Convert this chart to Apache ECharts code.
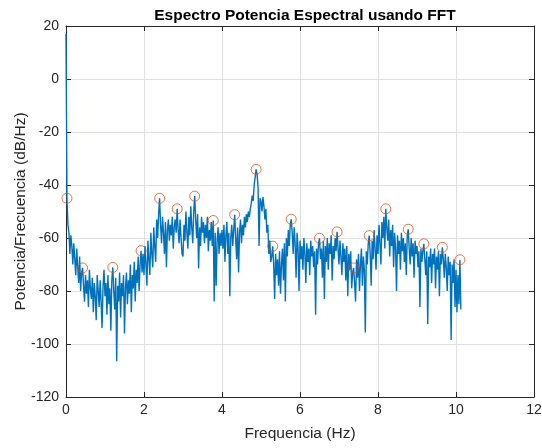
<!DOCTYPE html>
<html>
<head>
<meta charset="utf-8">
<script src="https://cdn.jsdelivr.net/npm/echarts@6/dist/echarts.min.js"></script>
<style>html,body{margin:0;padding:0;background:#fff}#c{width:542px;height:448px}</style>
</head>
<body>
<div id="c"></div>
<script>
// Spectrum sampling step (Hz) of the FFT bins
const freqStep = 0.025;
// Power spectral density values (dB/Hz), one per bin starting at 0 Hz
const psdValues = [
  17, -45, -55, -58, -66, -59, -63, -70, -62, -68, -74, -64, -71, -77, -67, -80, -73, -71.3, -78, -84,
  -74, -81, -76, -86, -72, -79, -83, -75, -88, -77, -82, -91, -74, -80, -86, -76, -84, -94, -78, -72,
  -82, -77, -89, -74, -85, -79, -95, -76, -71.1, -80, -87, -75, -106.5, -78, -84, -73, -90, -77, -82, -74,
  -96, -79, -73, -85, -76, -81, -70, -88, -74, -79, -69, -84, -72, -77, -67, -80, -70, -64.8, -73, -66,
  -74, -63, -70, -78, -61, -68, -74, -58, -66, -71, -56, -63, -69, -53, -60, -51, -45, -55, -62, -52,
  -58, -66, -54, -71, -57, -53, -61, -55, -59, -52, -64, -56, -53, -58, -49, -57, -62, -53, -60, -66,
  -67, -55, -61, -50, -58, -64, -52, -59, -48, -56, -62, -50, -44.2, -53, -60, -51, -71.5, -56, -63, -52,
  -58, -54, -62, -55, -60, -52, -65, -57, -61, -54, -63, -53.4, -84, -58, -78, -61, -56, -66, -58, -63,
  -57, -64, -55, -69, -59, -54, -66, -58, -82, -60, -55, -63, -57, -51.2, -60, -68, -56, -73, -58, -53,
  -62, -55, -59, -52, -56, -51, -54, -50, -52, -49, -47, -44, -46, -40, -37, -34.1, -36, -41, -63, -45,
  -46, -50, -44.5, -48, -53, -49, -58, -55, -66, -61, -69, -67, -63.1, -70, -83, -66, -74, -68, -78, -65,
  -81, -70, -64, -76, -62, -84, -60, -67, -57, -63, -55, -52.9, -58, -66, -56, -62, -75, -58, -64, -80,
  -61, -68, -63, -72, -60, -66, -77, -62, -69, -64, -74, -61, -67, -63, -71, -65, -89, -64, -70, -62,
  -60.1, -68, -64, -75, -61, -83, -63, -69, -60, -72, -62, -66, -59, -76, -63, -68, -60, -65, -57.7, -64,
  -70, -61, -67, -74, -62, -69, -64, -76, -63, -82, -66, -72, -65, -79, -73, -71.3, -77, -84, -68, -75,
  -66, -80, -70, -64, -78, -67, -72, -95.7, -65, -70, -62, -59.1, -66, -78, -61, -68, -57, -64, -72, -59,
  -66, -55, -62, -70, -54, -60, -52, -64, -49, -56, -61, -53, -67, -57, -63, -55, -71, -58, -64, -80,
  -59, -66, -61, -72, -58, -65, -60, -69, -62, -74, -59, -56.7, -64, -70, -60, -67, -62, -75, -61, -66,
  -63, -71, -65, -86, -64, -69, -65, -62.2, -68, -74, -65, -92.5, -67, -71, -64, -77, -66, -70, -64, -79,
  -67, -72, -65, -82, -66, -70, -63.5, -68, -75, -66, -71, -80, -67, -74, -69, -98.5, -70, -77, -68, -86,
  -72, -88, -74, -85, -68.2, -87
];
// Detected peaks (frequency in Hz, level in dB/Hz)
const peakFreqs = [0.025, 0.425, 1.2, 1.925, 2.4, 2.85, 3.3, 3.775, 4.325, 4.875, 5.3, 5.775, 6.5, 6.95, 7.375, 7.775, 8.2, 8.775, 9.175, 9.65, 10.1];
const peakValues = [-45, -71.3, -71.1, -64.8, -45, -49, -44.2, -53.4, -51.2, -34.1, -63.1, -52.9, -60.1, -57.7, -71.3, -59.1, -49, -56.7, -62.2, -63.5, -68.2];
// Axis ticks
const xTicks = [0, 2, 4, 6, 8, 10, 12];
const yTicks = [-120, -100, -80, -60, -40, -20, 0, 20];

const lineData = psdValues.map((v, i) => [+(i * freqStep).toFixed(3), v]);
const peakData = peakFreqs.map((f, i) => [f, peakValues[i]]);

const font = "'Liberation Sans', Arial, Helvetica, sans-serif";
const axisCol = '#262626';
const gridCol = '#e0e0e0';

const chart = echarts.init(document.getElementById('c'), null, {renderer: 'canvas'});
const baseX = {
  type: 'value', min: xTicks[0], max: xTicks[xTicks.length - 1], interval: 2,
  axisLine: {show: true, onZero: false, lineStyle: {color: axisCol, width: 1}},
  axisTick: {show: true, inside: true, length: 5, lineStyle: {color: axisCol}},
};
const baseY = {
  type: 'value', min: yTicks[0], max: yTicks[yTicks.length - 1], interval: 20,
  axisLine: {show: true, onZero: false, lineStyle: {color: axisCol, width: 1}},
  axisTick: {show: true, inside: true, length: 5, lineStyle: {color: axisCol}},
};
chart.setOption({
  animation: false,
  backgroundColor: '#ffffff',
  title: {
    text: 'Espectro Potencia Espectral usando FFT',
    left: 300, top: 3, textAlign: 'center',
    textStyle: {fontFamily: font, fontSize: 15.5, fontWeight: 'bold', color: '#000'}
  },
  grid: {left: 66, right: 8, top: 26, bottom: 51, containLabel: false, outerBoundsMode: 'none'},
  xAxis: [
    Object.assign({}, baseX, {
      position: 'bottom',
      name: 'Frequencia (Hz)', nameLocation: 'middle', nameGap: 29, nameMoveOverlap: false,
      nameTextStyle: {fontFamily: font, fontSize: 15.5, color: axisCol},
      axisLabel: {color: axisCol, fontFamily: font, fontSize: 14, margin: 6},
      splitLine: {show: true, lineStyle: {color: gridCol, width: 1}}
    }),
    Object.assign({}, baseX, {
      position: 'top', axisLabel: {show: false}, splitLine: {show: false}
    })
  ],
  yAxis: [
    Object.assign({}, baseY, {
      position: 'left',
      name: 'Potencia/Frecuencia (dB/Hz)', nameLocation: 'middle', nameGap: 37, nameMoveOverlap: false,
      nameTextStyle: {fontFamily: font, fontSize: 15.5, color: axisCol},
      axisLabel: {color: axisCol, fontFamily: font, fontSize: 14, margin: 7},
      splitLine: {show: true, lineStyle: {color: gridCol, width: 1}}
    }),
    Object.assign({}, baseY, {
      position: 'right', axisLabel: {show: false}, splitLine: {show: false}
    })
  ],
  series: [
    {
      type: 'line', data: lineData, xAxisIndex: 0, yAxisIndex: 0,
      showSymbol: false, symbol: 'none',
      lineStyle: {color: '#0072BD', width: 1.4},
      clip: true, z: 2
    },
    {
      type: 'scatter', data: peakData, xAxisIndex: 0, yAxisIndex: 0,
      symbol: 'circle', symbolSize: 10,
      itemStyle: {color: 'rgba(0,0,0,0)', borderColor: '#D95319', borderWidth: 1},
      z: 3
    }
  ]
});
</script>
</body>
</html>
